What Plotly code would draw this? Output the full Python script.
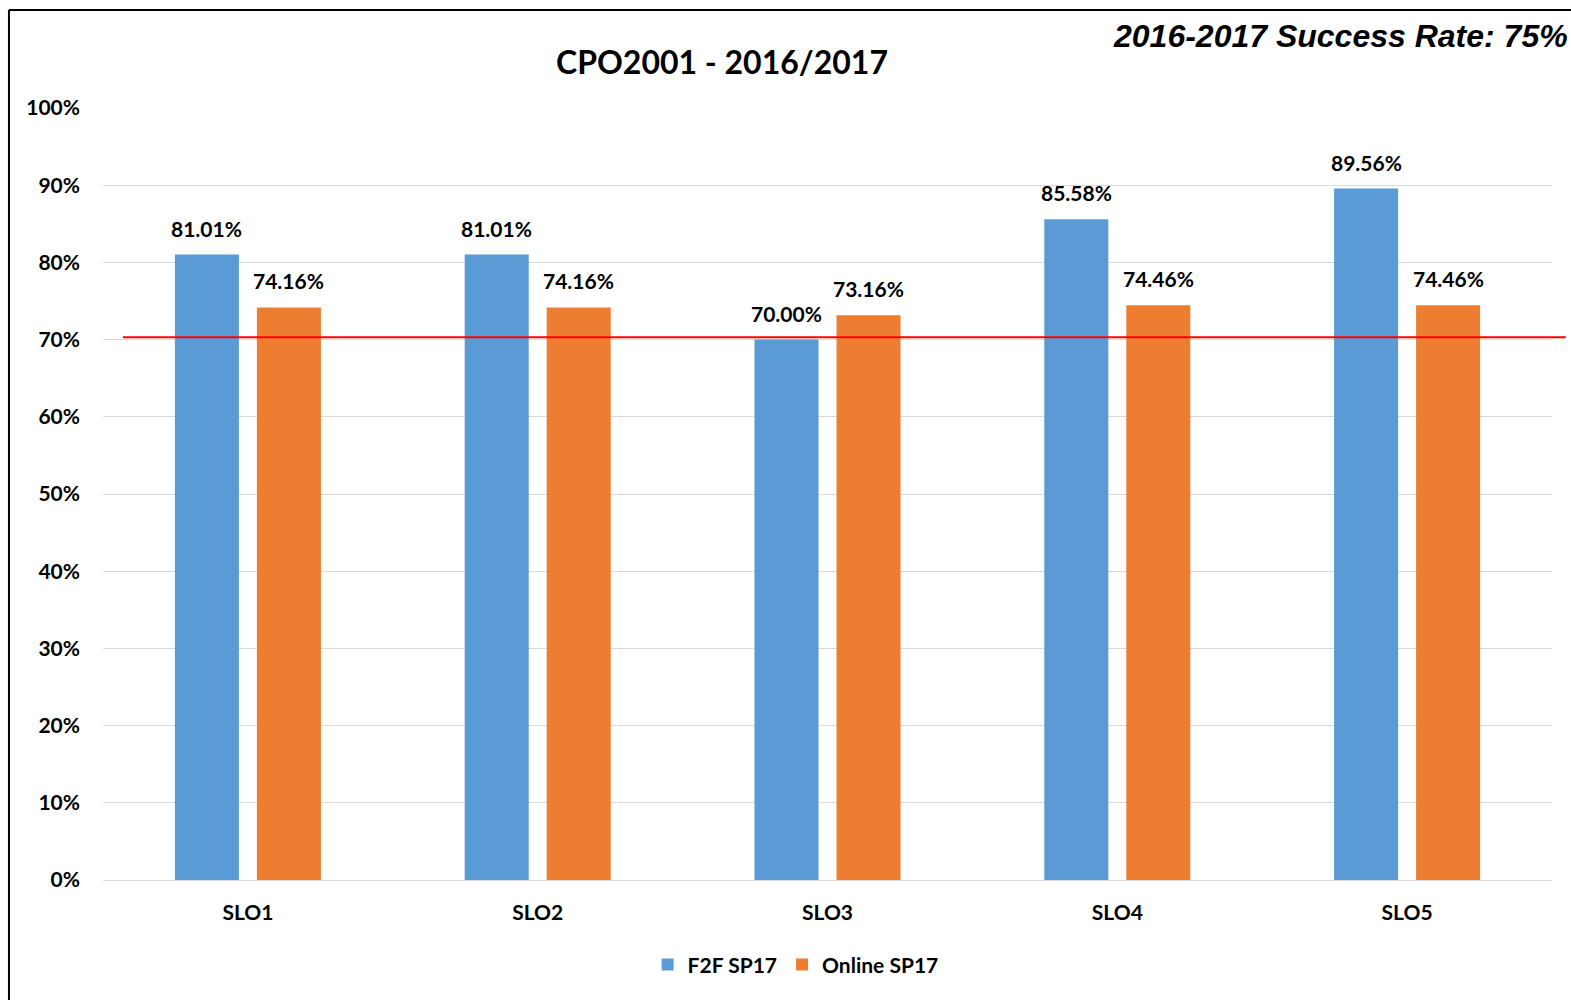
import plotly.graph_objects as go

categories = ["SLO1", "SLO2", "SLO3", "SLO4", "SLO5"]
f2f_sp17 = [81.01, 81.01, 70.00, 85.58, 89.56]
online_sp17 = [74.16, 74.16, 73.16, 74.46, 74.46]
series_names = ["F2F SP17", "Online SP17"]
target_line = 70.3
y_ticks = [0, 10, 20, 30, 40, 50, 60, 70, 80, 90, 100]
y_tick_labels = [f"{v}%" for v in y_ticks]
title_text = "CPO2001 - 2016/2017"
rate_text = "2016-2017 Success Rate: 75%"

BLUE = "#5B9BD5"
ORANGE = "#ED7D31"
FONT = "Lato"

fig = go.Figure()
fig.add_trace(go.Bar(x=categories, y=f2f_sp17, name=f"<b>{series_names[0]}</b>",
                     marker=dict(color=BLUE, line=dict(width=0))))
fig.add_trace(go.Bar(x=categories, y=online_sp17, name=f"<b>{series_names[1]}</b>",
                     marker=dict(color=ORANGE, line=dict(width=0))))

annotations = []
for vals, shift in ((f2f_sp17, -41), (online_sp17, 41)):
    for c, v in zip(categories, vals):
        annotations.append(dict(x=c, y=v, xref="x", yref="y", text=f"<b>{v:.2f}%</b>",
                                showarrow=False, xshift=shift, yanchor="bottom", yshift=12,
                                font=dict(family=FONT, size=21, color="#000")))

annotations.append(dict(x=0.4275, y=1.06, xref="paper", yref="paper", text=f"<b>{title_text}</b>",
                        showarrow=False, xanchor="center", yanchor="middle",
                        font=dict(family=FONT, size=32, color="#000")))
annotations.append(dict(x=1.0125, y=1.093, xref="paper", yref="paper", text=f"<b><i>{rate_text}</i></b>",
                        showarrow=False, xanchor="right", yanchor="middle",
                        font=dict(family="Liberation Sans", size=32, color="#000")))

shapes = [
    dict(type="line", xref="paper", yref="y", x0=0.0138, x1=1.0095, y0=target_line, y1=target_line,
         line=dict(color="#FF0000", width=2)),
    dict(type="line", xref="paper", yref="paper", x0=-0.0649, x1=-0.0649, y0=1.127, y1=-0.2,
         line=dict(color="#000", width=2)),
    dict(type="line", xref="paper", yref="paper", x0=-0.0649, x1=1.1, y0=1.127, y1=1.127,
         line=dict(color="#000", width=2)),
]

fig.update_layout(
    width=1571, height=1000,
    margin=dict(l=103, r=19, t=108, b=120),
    paper_bgcolor="white", plot_bgcolor="white",
    barmode="group", bargap=0.434, bargroupgap=0.2195,
    font=dict(family=FONT, color="#000"),
    showlegend=True,
    legend=dict(orientation="h", x=0.478, xanchor="center", y=-0.11, yanchor="middle",
                font=dict(family=FONT, size=21, color="#000"), itemwidth=30,
                traceorder="normal"),
    annotations=annotations,
    shapes=shapes,
)
fig.update_yaxes(range=[0, 100], tickvals=y_ticks, ticktext=[f"<b>{t}</b>" for t in y_tick_labels],
                 showgrid=True, gridcolor="#D9D9D9", gridwidth=1, zeroline=False,
                 showline=False, ticks="", ticklabelstandoff=22,
                 tickfont=dict(family=FONT, size=21, color="#000"))
fig.update_xaxes(tickvals=categories, ticktext=[f"<b>{c}</b>" for c in categories],
                 showline=True, linecolor="#D9D9D9", linewidth=1, ticks="",
                 ticklabelstandoff=14,
                 tickfont=dict(family=FONT, size=21, color="#000"))

fig.write_html("out.html", config={"displayModeBar": False},
               post_script="document.body.style.margin='0px';document.body.style.overflow='hidden';")
